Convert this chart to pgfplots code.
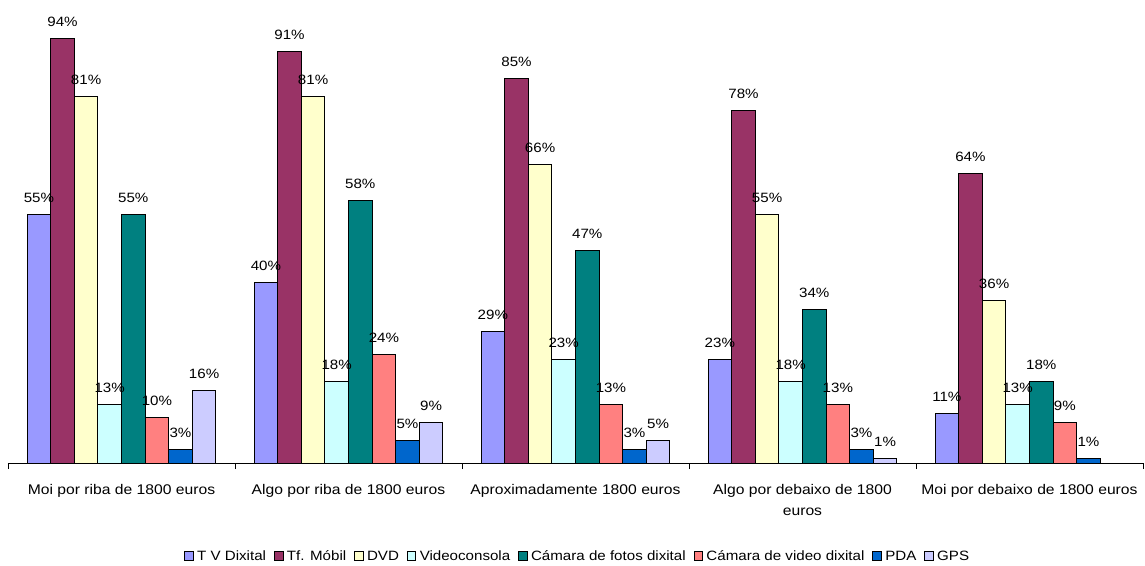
\documentclass[border=0pt]{standalone}
\usepackage{pgfplots}
\pgfplotsset{compat=1.18}
\usepackage{fontspec}
\setmainfont{Liberation Sans}[FakeStretch=1.12]
\definecolor{cTV}{HTML}{9999FF}
\definecolor{cTF}{HTML}{993366}
\definecolor{cDVD}{HTML}{FFFFCC}
\definecolor{cVC}{HTML}{CCFFFF}
\definecolor{cFOT}{HTML}{008080}
\definecolor{cVID}{HTML}{FF8080}
\definecolor{cPDA}{HTML}{0066CC}
\definecolor{cGPS}{HTML}{CCCCFF}
\begin{document}
\begin{tikzpicture}
\begin{axis}[
  at={(0,0)}, anchor=south west,
  scale only axis, width=1135pt, height=452pt,
  xmin=-0.5, xmax=4.5, ymin=0, ymax=100,
  ybar=0pt, bar width=23.6pt,
  axis x line=bottom, axis y line=none,
  axis line style={-, line width=0.8pt},
  xtick={0,1,2,3,4},
  xticklabels={Moi por riba de 1800 euros, Algo por riba de 1800 euros, Aproximadamente 1800 euros, {Algo por debaixo de 1800\\euros}, Moi por debaixo de 1800 euros},
  minor xtick={-0.5,0.5,1.5,2.5,3.5,4.5},
  major tick length=0pt, minor tick length=6pt,
  tick align=outside,
  minor tick style={line width=0.8pt, black},
  xticklabel style={font=\fontsize{14}{21}\selectfont, align=center, yshift=-18pt, anchor=north},
  clip=false,
  every axis plot/.append style={draw=black, line width=1pt},
  nodes near coords={\pgfmathprintnumber[assume math mode=true]{\pgfplotspointmeta}\%},
  nodes near coords style={font=\fontsize{13.5}{14}\selectfont, black, yshift=8pt},
  legend style={at={(0.502,-0.206)}, anchor=center, draw=none, legend columns=-1, font=\fontsize{13.5}{14}\selectfont, /tikz/every even column/.append style={column sep=6pt}, /tikz/every odd column/.append style={column sep=1.5pt}},
  legend image code/.code={\draw[#1, line width=0.8pt] (0pt,-4pt) rectangle (8.5pt,4.5pt);},
]
\addplot[fill=cTV] coordinates {(0,55) (1,40) (2,29) (3,23) (4,11)};
\addplot[fill=cTF] coordinates {(0,94) (1,91) (2,85) (3,78) (4,64)};
\addplot[fill=cDVD] coordinates {(0,81) (1,81) (2,66) (3,55) (4,36)};
\addplot[fill=cVC] coordinates {(0,13) (1,18) (2,23) (3,18) (4,13)};
\addplot[fill=cFOT] coordinates {(0,55) (1,58) (2,47) (3,34) (4,18)};
\addplot[fill=cVID] coordinates {(0,10) (1,24) (2,13) (3,13) (4,9)};
\addplot[fill=cPDA] coordinates {(0,3) (1,5) (2,3) (3,3) (4,1)};
\addplot[fill=cGPS] coordinates {(0,16) (1,9) (2,5) (3,1)};
\legend{T V Dixital, Tf. Móbil, DVD, Videoconsola, Cámara de fotos dixital, Cámara de video dixital, PDA, GPS}
\end{axis}
\pgfresetboundingbox
\path[use as bounding box] (-8pt,-102pt) rectangle (1137pt,463pt);
\end{tikzpicture}
\end{document}
